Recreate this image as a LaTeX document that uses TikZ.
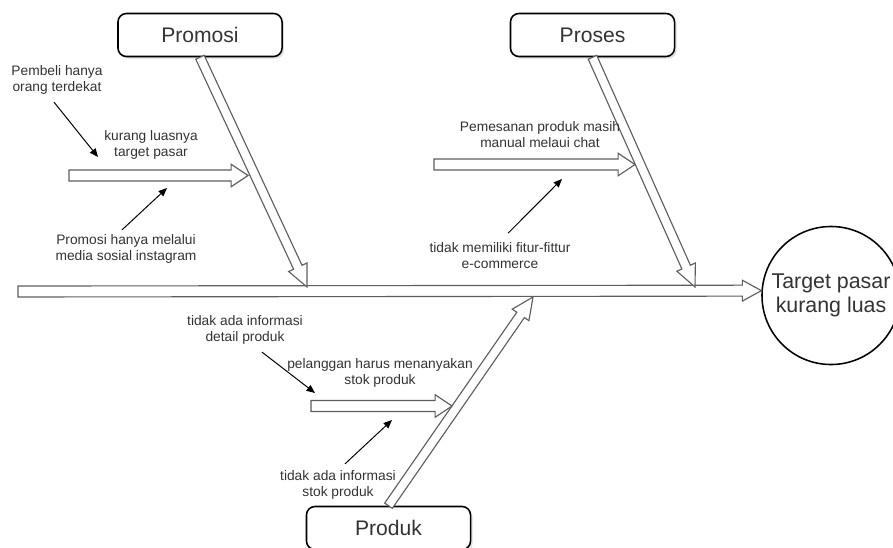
\documentclass[tikz,border=0pt]{standalone}
\usepackage{fontspec}
\setmainfont{Liberation Sans}
\usetikzlibrary{calc,arrows.meta,shadows}

\definecolor{bonegray}{HTML}{5E5E5E}
\definecolor{txtgray}{HTML}{333333}

% hollow fish bone: tail, tip, half shaft, half head, head length
\newcommand{\bonearrow}[5]{%
	\coordinate (hb) at ($(#2)!#5!(#1)$);
	\draw[bone] ($(#1)!#3!90:(#2)$) -- ($(hb)!#3!90:(#2)$)
		-- ($(hb)!#4!90:(#2)$) -- (#2) -- ($(hb)!#4!-90:(#2)$)
		-- ($(hb)!#3!-90:(#2)$) -- ($(#1)!#3!-90:(#2)$) -- cycle;
}

\begin{document}
\begin{tikzpicture}[x=0.025cm, y=-0.025cm,
	box/.style={draw, line width=1.1pt, rounded corners=6pt, fill=white,
		minimum width=4.1cm, minimum height=1.075cm, text=txtgray,
		font=\fontsize{15}{18}\selectfont,
		drop shadow={shadow xshift=1.5pt, shadow yshift=-1.5pt, opacity=0.25}},
	goal/.style={draw, circle, line width=1.1pt, minimum size=3.45cm,
		inner sep=0pt, align=center, text=txtgray,
		font=\fontsize{15.2}{17.5}\selectfont},
	cause/.style={font=\fontsize{9.8}{11.4}\selectfont, text=txtgray,
		align=center, inner sep=1pt},
	bone/.style={draw=bonegray, line width=0.8pt, fill=white},
	hint/.style={-{Triangle[length=6pt,width=5pt]}, line width=0.7pt}]
				\useasboundingbox (0,0) rectangle (893,547);
				\clip (0,0) rectangle (893,547);
				% Heads and effect:
				\node[box] (promosi) at (200, 35) {Promosi};
				\node[box] (proses) at (592.5, 35) {Proses};
				\node[box] (produk) at (388.5, 528) {Produk};
				\node[goal] (target) at (831, 295.5) {Target pasar\\kurang luas};
				% Spine and main bones:
				\coordinate (spineL) at (18, 291.5);
				\coordinate (promosiT) at (307, 287);
				\coordinate (prosesT) at (695, 287);
				\coordinate (produkT) at (533, 297);
				\bonearrow{spineL}{target.176}{3.9pt}{7.4pt}{13.5pt}
				\bonearrow{promosi.south}{promosiT}{3.3pt}{7.2pt}{15.5pt}
				\bonearrow{proses.south}{prosesT}{3.3pt}{7.2pt}{15.5pt}
				\bonearrow{produk.north}{produkT}{3.3pt}{7.2pt}{15.5pt}
				% Minor bones:
				\coordinate (sub1L) at (69, 175.5);
				\coordinate (sub1R) at (248, 175.5);
				\coordinate (sub2L) at (434, 164.5);
				\coordinate (sub2R) at (635, 164.5);
				\coordinate (sub3L) at (311, 406);
				\coordinate (sub3R) at (452, 406);
				\bonearrow{sub1L}{sub1R}{3.9pt}{8pt}{12pt}
				\bonearrow{sub2L}{sub2R}{3.9pt}{8pt}{12pt}
				\bonearrow{sub3L}{sub3R}{3.9pt}{8pt}{12pt}
				% Causes:
				\node[cause] (pembeli) at (57, 80) {Pembeli hanya\\orang terdekat};
				\node[cause] (kurangluas) at (151, 145) {kurang luasnya\\target pasar};
				\node[cause] (instagram) at (126, 249) {Promosi hanya melalui\\media sosial instagram};
				\node[cause] (chat) at (540, 135) {Pemesanan produk masih\\manual melaui chat};
				\node[cause] (fitur) at (500, 256) {tidak memiliki fitur-fittur\\e-commerce};
				\node[cause] (detail) at (245, 330) {tidak ada informasi\\detail produk};
				\node[cause] (tanya) at (380, 373) {pelanggan harus menanyakan\\stok produk};
				\node[cause] (stok) at (338, 485) {tidak ada informasi\\stok produk};
				% Pointers:
				\coordinate (p1) at (98, 157);
				\coordinate (p2) at (167, 188);
				\coordinate (p3) at (562, 179);
				\coordinate (p4) at (315, 393);
				\coordinate (p5) at (392, 420);
				\draw[hint] ($(pembeli.south)+(-3,6)$) -- (p1);
				\draw[hint] ($(instagram.north)+(-4,-3)$) -- (p2);
				\draw[hint] ($(fitur.north)+(8,-8)$) -- (p3);
				\draw[hint] ($(detail.south)+(17,6)$) -- (p4);
				\draw[hint] ($(stok.north)+(7,-5)$) -- (p5);
			\end{tikzpicture}
\end{document}
